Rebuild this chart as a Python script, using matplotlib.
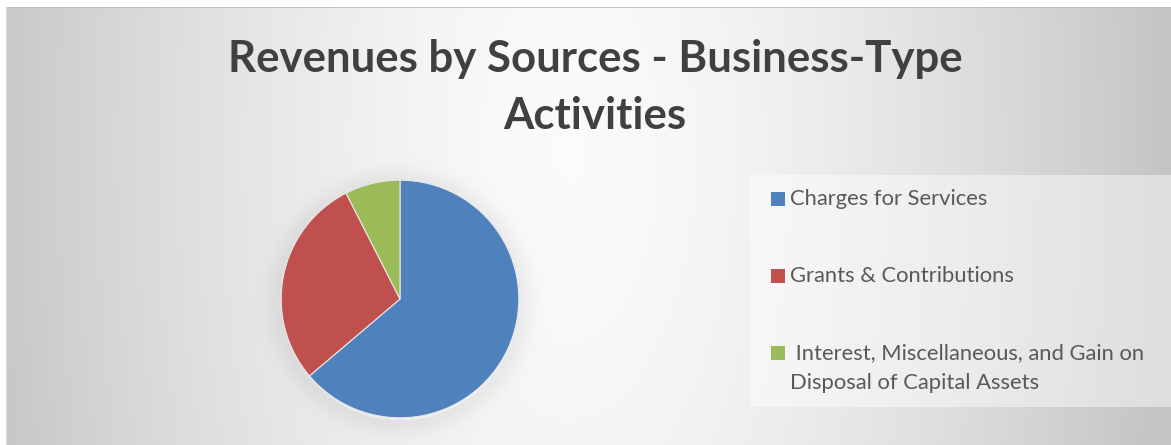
import numpy as np
import matplotlib
matplotlib.use("Agg")
import matplotlib.pyplot as plt
from matplotlib.patches import Rectangle

# Revenue shares (percent of total)
categories = [
    "Charges for Services",
    "Grants & Contributions",
    " Interest, Miscellaneous, and Gain on\nDisposal of Capital Assets",
]
shares = [63.8, 28.7, 7.5]
colors = ["#4F81BD", "#C0504D", "#9BBB59"]
title_lines = ["Revenues by Sources - Business-Type", "Activities"]

W, H = 1171, 445
fig = plt.figure(figsize=(W / 100, H / 100), dpi=100)
fig.patch.set_facecolor("white")


def px_box(x0, y0, x1, y1):
    """Pixel box (top-left origin) -> figure fraction [left, bottom, w, h]."""
    return [x0 / W, 1 - y1 / H, (x1 - x0) / W, (y1 - y0) / H]


# Chart area background: soft light gradient with a faint halo around the pie
bg = fig.add_axes(px_box(6, 7, W, H))
bg.set_axis_off()
gx, gy = np.meshgrid(np.arange(6, W) + 0.5, np.arange(7, H) + 0.5)
d = np.sqrt(((gx - 570) / 600) ** 2 + ((gy - 150) / 1300) ** 2)
t = np.clip(d, 0, 1) ** 1.5
light, dark = 0.985, 0.77
val = light * (1 - t) + dark * t
r = np.sqrt((gx - 400) ** 2 + (gy - 302) ** 2)
halo = np.exp(-((r - 120) / 14) ** 2) * (r > 118)
val = val - 0.05 * halo
img = np.dstack([val, val, val])
bg.imshow(img, extent=[0, 1, 0, 1], aspect="auto", origin="upper")
bg.set_xlim(0, 1)
bg.set_ylim(0, 1)
bg.plot([0, 1], [1, 1], color="#bdbdbd", lw=1.2, transform=bg.transAxes)
bg.plot([0, 0], [0, 1], color="#d6d6d6", lw=1.0, transform=bg.transAxes)

# Title
for k, line in enumerate(title_lines):
    fig.text(595 / W, 1 - (59 + 57 * k) / H, line,
             ha="center", va="center", fontsize=31.5, fontweight="bold",
             family="Lato", color="#404040")

# Pie
pax = fig.add_axes(px_box(280, 179, 520, 419))
wedges, _ = pax.pie(shares, colors=colors, startangle=90, counterclock=False,
                    radius=1.0,
                    wedgeprops=dict(edgecolor="#e8e8e8", linewidth=0.8))
pax.set_xlim(-1.01, 1.01)
pax.set_ylim(-1.01, 1.01)
pax.set_aspect("equal")
pax.set_axis_off()

# Legend panel
lax = fig.add_axes([0, 0, 1, 1], facecolor="none")
lax.set_xlim(0, W)
lax.set_ylim(H, 0)
lax.set_axis_off()
lax.add_patch(Rectangle((750, 175), W - 750, 232, facecolor="white",
                        alpha=0.45, edgecolor="none"))
rows_y = [199, 276, 353]
for label, col, y in zip(categories, colors, rows_y):
    lax.add_patch(Rectangle((771, y - 7), 14, 14, facecolor=col,
                            edgecolor="none"))
    for k, line in enumerate(label.split("\n")):
        lax.text(790, y + k * 30, line, ha="left", va="center",
                 fontsize=15.8, family="Lato", color="#595959")

fig.savefig("out.png", dpi=100)
